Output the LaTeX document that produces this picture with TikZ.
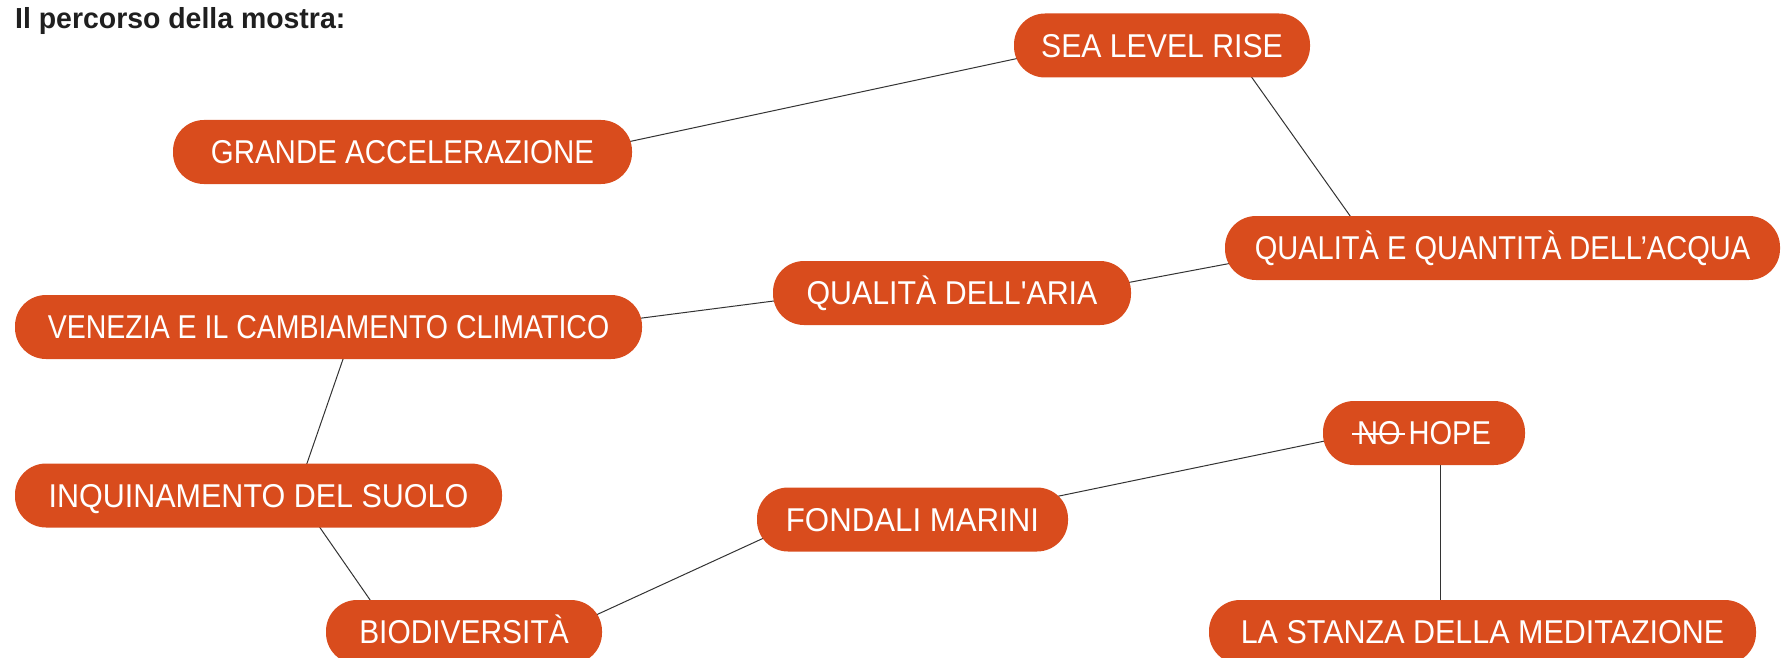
\documentclass[tikz,border=0pt]{standalone}
\usepackage{fontspec}
\setmainfont{Liberation Sans}
\newfontfamily\boxfont[FakeStretch=0.88,Ligatures=TeXOff]{Liberation Sans}
\newfontfamily\titlefont[FakeStretch=0.98]{Liberation Sans}
\usetikzlibrary{backgrounds}
\definecolor{pillc}{HTML}{D94C1D}
\definecolor{wirec}{HTML}{333333}
\newsavebox\strikebox
\newcommand\sx[2]{\scalebox{#1}[1]{#2}}
\tikzset{
  pill/.style={fill=pillc, rounded corners=31pt, text=white,
    font=\boxfont\fontsize{33}{33}\selectfont,
    minimum height=64pt, text height=23.6pt, text depth=0pt,
    inner xsep=0pt, inner ysep=0pt, anchor=center},
  wire/.style={draw=wirec, line width=1pt, shorten <=-5pt, shorten >=-5pt}
}
\begin{document}
\begin{tikzpicture}[x=1pt,y=-1pt]
\useasboundingbox (0,0) rectangle (1782,658);
\node[anchor=base west, inner sep=0pt, text=black!88,
  font=\titlefont\bfseries\fontsize{29}{29}\selectfont] (title) at (15,29) {Il percorso della mostra:};

\node[pill, minimum width=296pt] (sea) at (1162,45.5) {\sx{1.04}{SEA LEVEL RISE}};
\node[pill, minimum width=459pt] (gr) at (402.5,152) {\sx{1.015}{GRANDE ACCELERAZIONE}};
\node[pill, minimum width=555pt] (acq) at (1502.5,248) {QUALITÀ E QUANTITÀ DELL’ACQUA};
\node[pill, minimum width=358pt] (aria) at (952,293) {\sx{1.045}{QUALITÀ DELL'ARIA}};
\node[pill, minimum width=627pt] (ven) at (328.5,327) {\sx{0.982}{VENEZIA E IL CAMBIAMENTO CLIMATICO}};
\node[pill, minimum width=202pt] (hope) at (1424,433) {\sbox\strikebox{NO}\makebox[0pt][l]{\kern-5pt\rule[10pt]{\dimexpr\wd\strikebox+9pt\relax}{1.8pt}}\usebox\strikebox{} HOPE};
\node[pill, minimum width=487pt] (inq) at (258.5,495.5) {\sx{1.05}{INQUINAMENTO DEL SUOLO}};
\node[pill, minimum width=311pt] (fon) at (912.5,519.5) {\sx{1.075}{FONDALI MARINI}};
\node[pill, minimum width=276pt] (bio) at (464,632) {\sx{1.03}{BIODIVERSITÀ}};
\node[pill, minimum width=547pt] (sta) at (1482.5,632) {\sx{1.05}{LA STANZA DELLA MEDITAZIONE}};

\begin{scope}[on background layer]
\draw[wire] ([yshift=11pt]gr.east) -- ([xshift=1pt,yshift=-13.5pt]sea.west);
\draw[wire] ([xshift=90pt]sea.south) -- ([xshift=-152.5pt]acq.north);
\draw[wire] ([xshift=2pt,yshift=-16pt]acq.west) -- ([yshift=11pt]aria.east);
\draw[wire] ([xshift=1pt,yshift=-8pt]aria.west) -- ([yshift=9pt]ven.east);
\draw[wire] ([xshift=14.5pt]ven.south) -- ([xshift=48.5pt]inq.north);
\draw[wire] ([xshift=61.5pt]inq.south) -- ([xshift=-94pt]bio.north);
\draw[wire] ([xshift=-4pt,yshift=18pt]bio.east) -- ([xshift=7pt,yshift=-18.5pt]fon.west);
\draw[wire] ([xshift=-9pt,yshift=23.5pt]fon.east) -- ([xshift=2pt,yshift=-8pt]hope.west);
\draw[wire] ([xshift=16pt]hope.south) -- ([xshift=-42.5pt]sta.north);
\end{scope}
\end{tikzpicture}
\end{document}
